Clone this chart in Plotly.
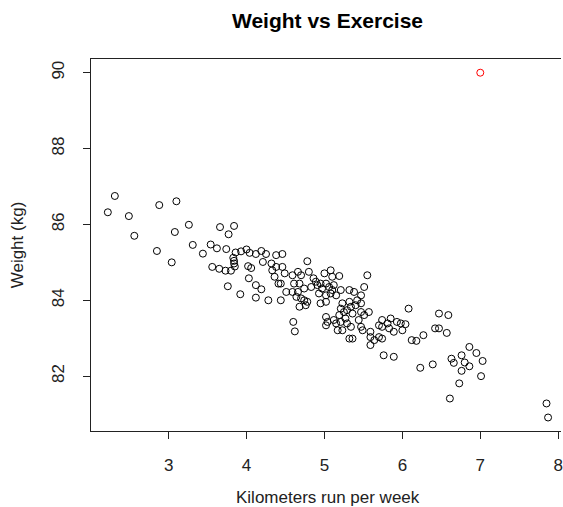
import plotly.graph_objects as go

# Kilometers run per week / weight (kg)
km = [
    2.31, 2.22, 2.49, 2.88, 3.10, 2.56, 3.08, 3.26, 2.85, 3.04,
    3.31, 3.44, 3.54, 3.62, 3.66, 3.77, 3.84, 3.74, 3.86, 3.93,
    4.00, 3.83, 3.84, 3.84, 3.85, 3.56, 3.65, 3.73, 3.80, 3.76,
    3.92, 4.02, 4.03,
    4.04, 4.12, 4.19, 4.25, 4.38, 4.06, 4.12, 4.19, 4.12, 4.28,
    4.21, 4.32, 4.38, 4.33, 4.36, 4.41,
    4.46, 4.78, 4.46, 4.49, 4.44, 4.51, 4.44, 4.59, 4.66, 4.70,
    4.80, 4.61, 4.68, 4.74, 4.83, 4.86, 4.89, 4.59, 4.66, 4.64,
    4.70, 4.74, 4.78, 4.68, 4.76, 4.91, 4.95, 5.00, 5.08, 5.10,
    5.19, 5.02, 5.06, 5.10, 4.97, 4.93, 5.12, 5.21, 5.15, 5.08,
    5.02, 4.95, 5.02, 5.55, 5.51, 5.32, 5.38, 5.47, 5.42, 5.32,
    5.23, 5.40, 5.47, 5.21, 5.25, 5.19, 5.34, 5.29, 5.36, 5.47,
    5.57, 5.51, 5.44, 5.02, 5.04, 5.02, 5.12, 5.15, 5.21, 5.27,
    5.29, 5.17, 5.23, 5.34, 5.47, 5.49, 5.36, 5.32, 5.59, 5.59,
    5.64, 5.59, 5.70, 5.70, 5.74, 5.81, 5.85, 5.93, 5.98, 6.00,
    5.89, 5.83, 5.74, 6.08, 6.12, 6.18, 5.76, 5.89, 4.60, 4.62,
    6.47, 6.59, 6.42, 6.47, 6.57, 6.27, 6.04, 5.74, 6.23, 6.39,
    6.86, 6.95, 7.03, 6.76, 6.63, 6.66, 6.80, 6.86, 6.76, 7.01,
    6.73, 6.61, 7.85, 7.87,
]
weight = [
    86.75, 86.32, 86.22, 86.51, 86.61, 85.70, 85.80, 85.99, 85.30, 85.00,
    85.46, 85.23, 85.47, 85.37, 85.93, 85.74, 85.96, 85.35, 85.26, 85.29,
    85.34, 85.12, 85.04, 84.97, 84.89, 84.88, 84.83, 84.78, 84.78, 84.37,
    84.16, 84.90, 84.58,
    85.25, 85.22, 85.30, 85.22, 85.19, 84.85, 84.40, 84.29, 84.07, 84.00,
    85.01, 84.97, 84.88, 84.79, 84.62, 84.44,
    85.22, 85.03, 84.88, 84.71, 84.44, 84.22, 84.00, 84.66, 84.75, 84.66,
    84.75, 84.44, 84.44, 84.31, 84.35, 84.58, 84.49, 84.22, 84.22, 84.09,
    84.05, 84.00, 83.96, 83.83, 83.87, 84.40, 84.44, 84.71, 84.79, 84.62,
    84.64, 84.44, 84.35, 84.27, 84.31, 84.18, 84.40, 84.27, 84.13, 84.18,
    84.13, 83.92, 83.96, 84.66, 84.35, 84.27, 84.22, 84.13, 84.00, 83.96,
    83.92, 83.87, 83.92, 83.78, 83.69, 83.61, 83.83, 83.74, 83.65, 83.69,
    83.69, 83.61, 83.48, 83.56, 83.43, 83.34, 83.48, 83.39, 83.43, 83.52,
    83.39, 83.21, 83.21, 83.30, 83.30, 83.21, 82.99, 82.99, 83.17, 83.03,
    82.95, 82.82, 83.03, 83.34, 83.30, 83.39, 83.52, 83.43, 83.39, 83.21,
    83.17, 83.26, 83.48, 83.78, 82.95, 82.93, 82.55, 82.51, 83.43, 83.18,
    83.65, 83.61, 83.26, 83.26, 83.14, 83.08, 83.37, 82.99, 82.22, 82.31,
    82.77, 82.61, 82.40, 82.55, 82.46, 82.35, 82.36, 82.26, 82.14, 82.00,
    81.81, 81.41, 81.28, 80.91,
]
outlier_km = [7.0]
outlier_weight = [90.0]

x_ticks = [3, 4, 5, 6, 7, 8]
y_ticks = [82, 84, 86, 88, 90]

FONT = "Liberation Sans, Arial, sans-serif"
INK = "#222222"

fig = go.Figure()
fig.add_trace(go.Scatter(
    x=km, y=weight, mode="markers",
    marker=dict(symbol="circle-open", size=7, color="black", line=dict(width=1, color="black")),
    showlegend=False,
))
fig.add_trace(go.Scatter(
    x=outlier_km, y=outlier_weight, mode="markers",
    marker=dict(symbol="circle-open", size=7, color="red", line=dict(width=1, color="red")),
    showlegend=False,
))

fig.update_layout(
    width=563, height=507,
    margin=dict(l=91, r=0, t=59, b=76),
    paper_bgcolor="white", plot_bgcolor="white",
    font=dict(family=FONT, size=17, color=INK),
    xaxis=dict(
        range=[2.004, 8.036], tickvals=x_ticks, ticktext=[str(v) for v in x_ticks],
        showgrid=False, zeroline=False,
        showline=True, linecolor=INK, linewidth=1, mirror=True,
        ticks="outside", ticklen=7, tickcolor=INK, tickwidth=1,
        ticklabelstandoff=12, ticklabeloverflow="allow",
    ),
    yaxis=dict(
        range=[80.554, 90.361], tickvals=y_ticks, ticktext=[str(v) for v in y_ticks],
        showgrid=False, zeroline=False,
        showline=True, linecolor=INK, linewidth=1,
        ticks="outside", ticklen=7, tickcolor=INK, tickwidth=1,
        tickangle=-90, ticklabelstandoff=12, ticklabeloverflow="allow",
    ),
    annotations=[
        dict(text="<b>Weight vs Exercise</b>", x=329, y=20, showarrow=False,
             font=dict(size=21, color="black")),
        dict(text="Kilometers run per week", x=329, y=497, showarrow=False,
             font=dict(size=17, color=INK)),
        dict(text="Weight (kg)", x=17, y=245, textangle=-90, showarrow=False,
             font=dict(size=17, color=INK)),
    ],
)

# position annotations in pixel terms (convert to paper coords)
pw = 563 - 91 - 0
ph = 507 - 59 - 76
new_ann = []
for a in fig.layout.annotations:
    px, py = a.x, a.y
    a.update(xref="paper", yref="paper",
             x=(px - 91) / pw, y=(507 - 76 - py) / ph,
             xanchor="center", yanchor="middle")
    new_ann.append(a)
fig.layout.annotations = new_ann

fig.write_html("out.html")
